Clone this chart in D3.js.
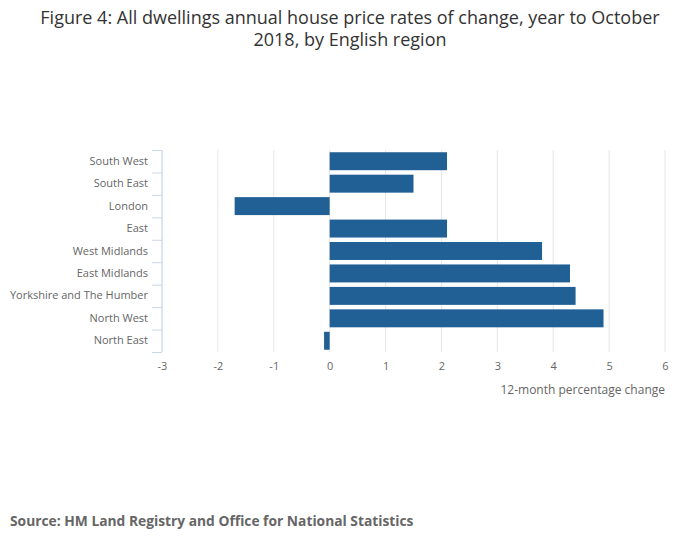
<!DOCTYPE html>
<html>
<head>
<meta charset="utf-8">
<script src="https://cdn.jsdelivr.net/npm/d3@7"></script>
<style>
  body { margin: 0; background: #fff; font-family: "Open Sans", sans-serif; }
</style>
</head>
<body>
<div id="chart"></div>
<script>
const regions = ["South West", "South East", "London", "East", "West Midlands",
  "East Midlands", "Yorkshire and The Humber", "North West", "North East"];
const changes = [2.1, 1.5, -1.7, 2.1, 3.8, 4.3, 4.4, 4.9, -0.1];
const xTicks = [-3, -2, -1, 0, 1, 2, 3, 4, 5, 6];

const titleLines = ["Figure 4: All dwellings annual house price rates of change, year to October",
  "2018, by English region"];
const xTitle = "12-month percentage change";
const source = "Source: HM Land Registry and Office for National Statistics";

const W = 700, H = 549;
const margin = { top: 150, left: 162, right: 35, bottom: 197 };
const width = W - margin.left - margin.right;
const height = H - margin.top - margin.bottom;

const data = regions.map((r, i) => ({ region: r, value: changes[i] }));

const svg = d3.select("#chart").append("svg")
  .attr("width", W).attr("height", H);

// title
svg.append("text")
  .attr("x", W / 2).attr("y", 24)
  .attr("text-anchor", "middle")
  .attr("fill", "#333")
  .style("font-size", "18px")
  .selectAll("tspan").data(titleLines).join("tspan")
  .attr("x", W / 2)
  .attr("dy", (d, i) => i == 0 ? 0 : 22)
  .text(d => d);

const g = svg.append("g")
  .attr("transform", `translate(${margin.left},${margin.top})`);

const xScale = d3.scaleLinear().domain([-3, 6]).range([0, width]);
const yScale = d3.scaleBand().domain(regions).range([0, height]).paddingInner(0.2).paddingOuter(0.1);

// gridlines
g.selectAll(".grid").data(xTicks).join("line")
  .attr("class", "grid")
  .attr("x1", d => xScale(d)).attr("x2", d => xScale(d))
  .attr("y1", 0).attr("y2", height)
  .attr("stroke", "#e6e6e6");

// bars
g.selectAll(".bar").data(data).join("rect")
  .attr("class", "bar")
  .attr("x", d => xScale(Math.min(0, d.value)))
  .attr("y", d => yScale(d.region))
  .attr("width", d => Math.abs(xScale(d.value) - xScale(0)))
  .attr("height", yScale.bandwidth())
  .attr("fill", "#206095");

// x axis
const xAxis = g.append("g")
  .attr("transform", `translate(0,${height})`)
  .call(d3.axisBottom(xScale).tickValues(xTicks).tickFormat(d => String(d)).tickSize(0).tickPadding(10));
xAxis.select(".domain").remove();
xAxis.selectAll("text")
  .attr("fill", "#666")
  .style("font-family", "Open Sans, sans-serif")
  .style("font-size", "11px");

g.append("text")
  .attr("x", width).attr("y", height + 42)
  .attr("text-anchor", "end")
  .attr("fill", "#666")
  .style("font-size", "12px")
  .text(xTitle);

// y axis
const yAxis = g.append("g")
  .call(d3.axisLeft(yScale).tickSize(0).tickPadding(14));
yAxis.select(".domain")
  .attr("stroke", "#ccd6eb")
  .attr("d", `M0,0V${height}`);
yAxis.selectAll("text")
  .attr("fill", "#666")
  .style("font-family", "Open Sans, sans-serif")
  .style("font-size", "11px");

// category boundary ticks
const boundaries = d3.range(regions.length + 1).map(i => i * height / regions.length);
g.selectAll(".ytick").data(boundaries).join("line")
  .attr("class", "ytick")
  .attr("x1", -10).attr("x2", 0)
  .attr("y1", d => d + 0.5).attr("y2", d => d + 0.5)
  .attr("stroke", "#ccd6eb");

// source
svg.append("text")
  .attr("x", 10).attr("y", 526)
  .attr("fill", "#666")
  .style("font-size", "13.8px")
  .style("font-weight", "bold")
  .text(source);
</script>
</body>
</html>
